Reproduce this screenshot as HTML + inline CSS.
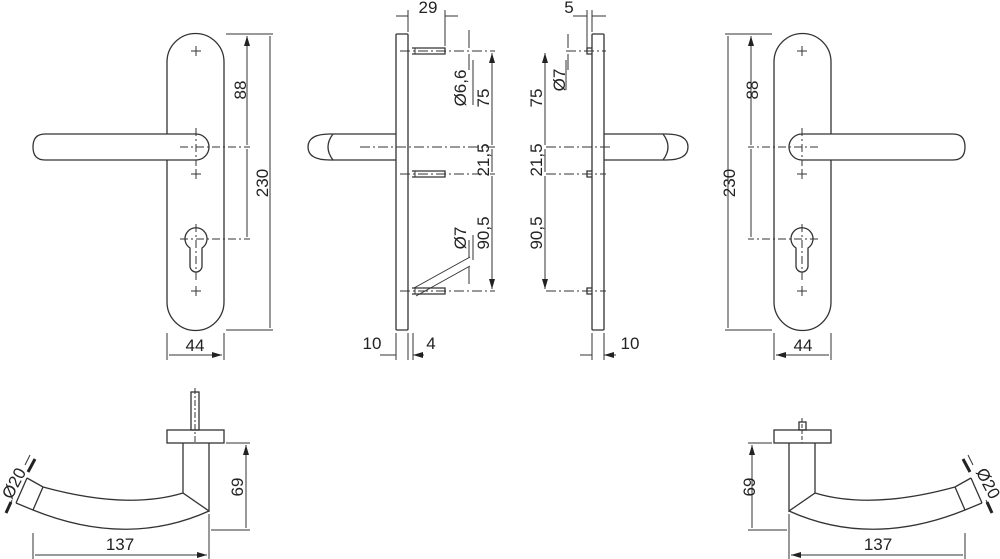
<!DOCTYPE html>
<html><head><meta charset="utf-8"><style>
html,body{margin:0;padding:0;background:#fff;}
svg{display:block;}
text{font-family:"Liberation Sans",Arial,sans-serif;font-size:17px;fill:#222;}
</style></head><body>
<svg width="1000" height="559" viewBox="0 0 1000 559" xmlns="http://www.w3.org/2000/svg">
<defs>
<marker id="a" viewBox="0 0 10 6" refX="10" refY="3" markerWidth="10" markerHeight="6" orient="auto-start-reverse" markerUnits="userSpaceOnUse"><path d="M0,0L10,3L0,6z" fill="#222"/></marker>
<g id="front" fill="none" stroke="#333" stroke-width="1.3">
  <path d="M167,62 A28.5,28.5 0 0 1 224,62 L224,302 A28.5,28.5 0 0 1 167,302 Z"/>
  <path d="M191,51h10M196,46v10M191,174h10M196,169v10M191,291h10M196,286v10" stroke-width="1"/>
  <path d="M196,134 L45,134 Q33,134 33,147 Q33,160 45,160 L196,160 A13,13 0 0 0 196,134 Z" fill="#fff"/>
  <path d="M180,147h70M196,128v38" stroke-dasharray="8,3,2,3" stroke-width="1"/>
  <path d="M190,248 A11,11 0 1 1 202,248 L202,266 A6,6 0 0 1 190,266 Z"/>
  <path d="M180,239h70M196,224v58" stroke-dasharray="8,3,2,3" stroke-width="1"/>
  <path d="M226,34h47M226,330h47M167,333v27M224,333v27" stroke-width="1"/>
  <path d="M247,36V145M247,149V237M270,36V328M169,355H222" marker-start="url(#a)" marker-end="url(#a)" stroke-width="1"/>
</g>
<g id="bot" fill="none" stroke="#333" stroke-width="1.3">
  <rect x="167" y="430" width="57" height="13"/>
  <path d="M183,443V493 L209,511 V443"/>
  <path d="M183,493 Q127,510 43,487 L27,478"/>
  <path d="M209,511 Q127,548 33,510 L16,503"/>
  <path d="M27,478 L16,503 M43,487 L33,510"/>
  <path d="M226,443h24M211,530h39M33,533v26M209,514v45" stroke-width="1"/>
  <path d="M246,445V528M35,555H207" marker-start="url(#a)" marker-end="url(#a)" stroke-width="1"/>
  <path d="M30,455L25,465M12,500L8,510" stroke-width="1"/>
  <path d="M35,459L28,472M11,502L6,513" stroke="#222" stroke-width="3"/>
</g>
</defs>
<use href="#front"/>
<use href="#bot"/>
<g transform="translate(998,0) scale(-1,1)"><use href="#front"/><use href="#bot"/></g>

<g fill="none" stroke="#333" stroke-width="1.3">
  <rect x="191" y="392" width="8" height="38"/>
  <path d="M195,388v55" stroke-dasharray="6,2,2,2" stroke-width="1"/>
  <rect x="799" y="422" width="7" height="8"/>
  <path d="M802,418v25" stroke-dasharray="4,2" stroke-width="1"/>

  <rect x="396" y="34" width="12" height="296" rx="1"/>
  <path d="M396,134H330 M396,160H330"/>
  <path d="M330,134 Q308,134 308,147 Q308,160 330,160"/>
  <path d="M333,134 Q323,147 333,160"/>
  <path d="M412,48h33v6h-33M412,171h33v6h-33M412,288h33v6h-33"/>
  <path d="M415,48v6M415,171v6M415,288v6" stroke-width="1"/>
  <path d="M360,147h135M400,51h95M400,174h95M400,291h95" stroke-dasharray="10,3,2,3" stroke-width="1"/>
  <path d="M414,288L470,257M416,296L470,266" stroke-width="1"/>
  <path d="M408,10v22M445,10v36M396,333v27M408,333v27M413,333v27M473,60v45M473,235v25" stroke-width="1"/>
  <path d="M396,16H408M458,16H445M469,30V48M469,70V54M469,240V258M469,284V267M380,355H396M424,355H413" marker-end="url(#a)" stroke-width="1"/>
  <path d="M492,53V145M492,149V172M492,176V289" marker-start="url(#a)" marker-end="url(#a)" stroke-width="1"/>

  <rect x="592" y="34" width="12" height="296" rx="1"/>
  <path d="M604,134H666 M604,160H666"/>
  <path d="M666,134 Q688,134 688,147 Q688,160 666,160"/>
  <path d="M663,134 Q673,147 663,160"/>
  <path d="M592,48h-5v6h5M592,171h-5v6h5M592,288h-5v6h5"/>
  <path d="M546,147h65M546,174h60M546,291h60M566,51h40" stroke-dasharray="10,3,2,3" stroke-width="1"/>
  <path d="M587,10v38M592,10v22M592,333v27M604,333v27M566,60v30" stroke-width="1"/>
  <path d="M573,16H587M606,16H592M568,34V48M568,70V54M580,355H592M616,355H604" marker-end="url(#a)" stroke-width="1"/>
  <path d="M545,53V145M545,149V172M545,176V289" marker-start="url(#a)" marker-end="url(#a)" stroke-width="1"/>
</g>

<g>
<text transform="translate(246,90) rotate(-90)" text-anchor="middle">88</text>
<text transform="translate(268,183) rotate(-90)" text-anchor="middle">230</text>
<text x="195" y="351" text-anchor="middle">44</text>
<text transform="translate(758,90) rotate(-90)" text-anchor="middle">88</text>
<text transform="translate(735,183) rotate(-90)" text-anchor="middle">230</text>
<text x="803" y="351" text-anchor="middle">44</text>

<text x="428" y="13" text-anchor="middle">29</text>
<text transform="translate(466,88) rotate(-90)" text-anchor="middle">Ø6,6</text>
<text transform="translate(489,98) rotate(-90)" text-anchor="middle">75</text>
<text transform="translate(489,160) rotate(-90)" text-anchor="middle">21,5</text>
<text transform="translate(489,233) rotate(-90)" text-anchor="middle">90,5</text>
<text transform="translate(466,238) rotate(-90)" text-anchor="middle">Ø7</text>
<text x="372" y="349" text-anchor="middle">10</text>
<text x="431" y="349" text-anchor="middle">4</text>

<text x="569" y="13" text-anchor="middle">5</text>
<text transform="translate(565,80) rotate(-90)" text-anchor="middle">Ø7</text>
<text transform="translate(542,98) rotate(-90)" text-anchor="middle">75</text>
<text transform="translate(542,160) rotate(-90)" text-anchor="middle">21,5</text>
<text transform="translate(542,233) rotate(-90)" text-anchor="middle">90,5</text>
<text x="630" y="349" text-anchor="middle">10</text>

<text transform="translate(243,487) rotate(-90)" text-anchor="middle">69</text>
<text x="120" y="550" text-anchor="middle">137</text>
<text transform="translate(19,486) rotate(-62)" text-anchor="middle">Ø20</text>
<text transform="translate(755,487) rotate(-90)" text-anchor="middle">69</text>
<text x="878" y="550" text-anchor="middle">137</text>
<text transform="translate(983,486) rotate(62)" text-anchor="middle">Ø20</text>
</g>
</svg>
</body></html>
